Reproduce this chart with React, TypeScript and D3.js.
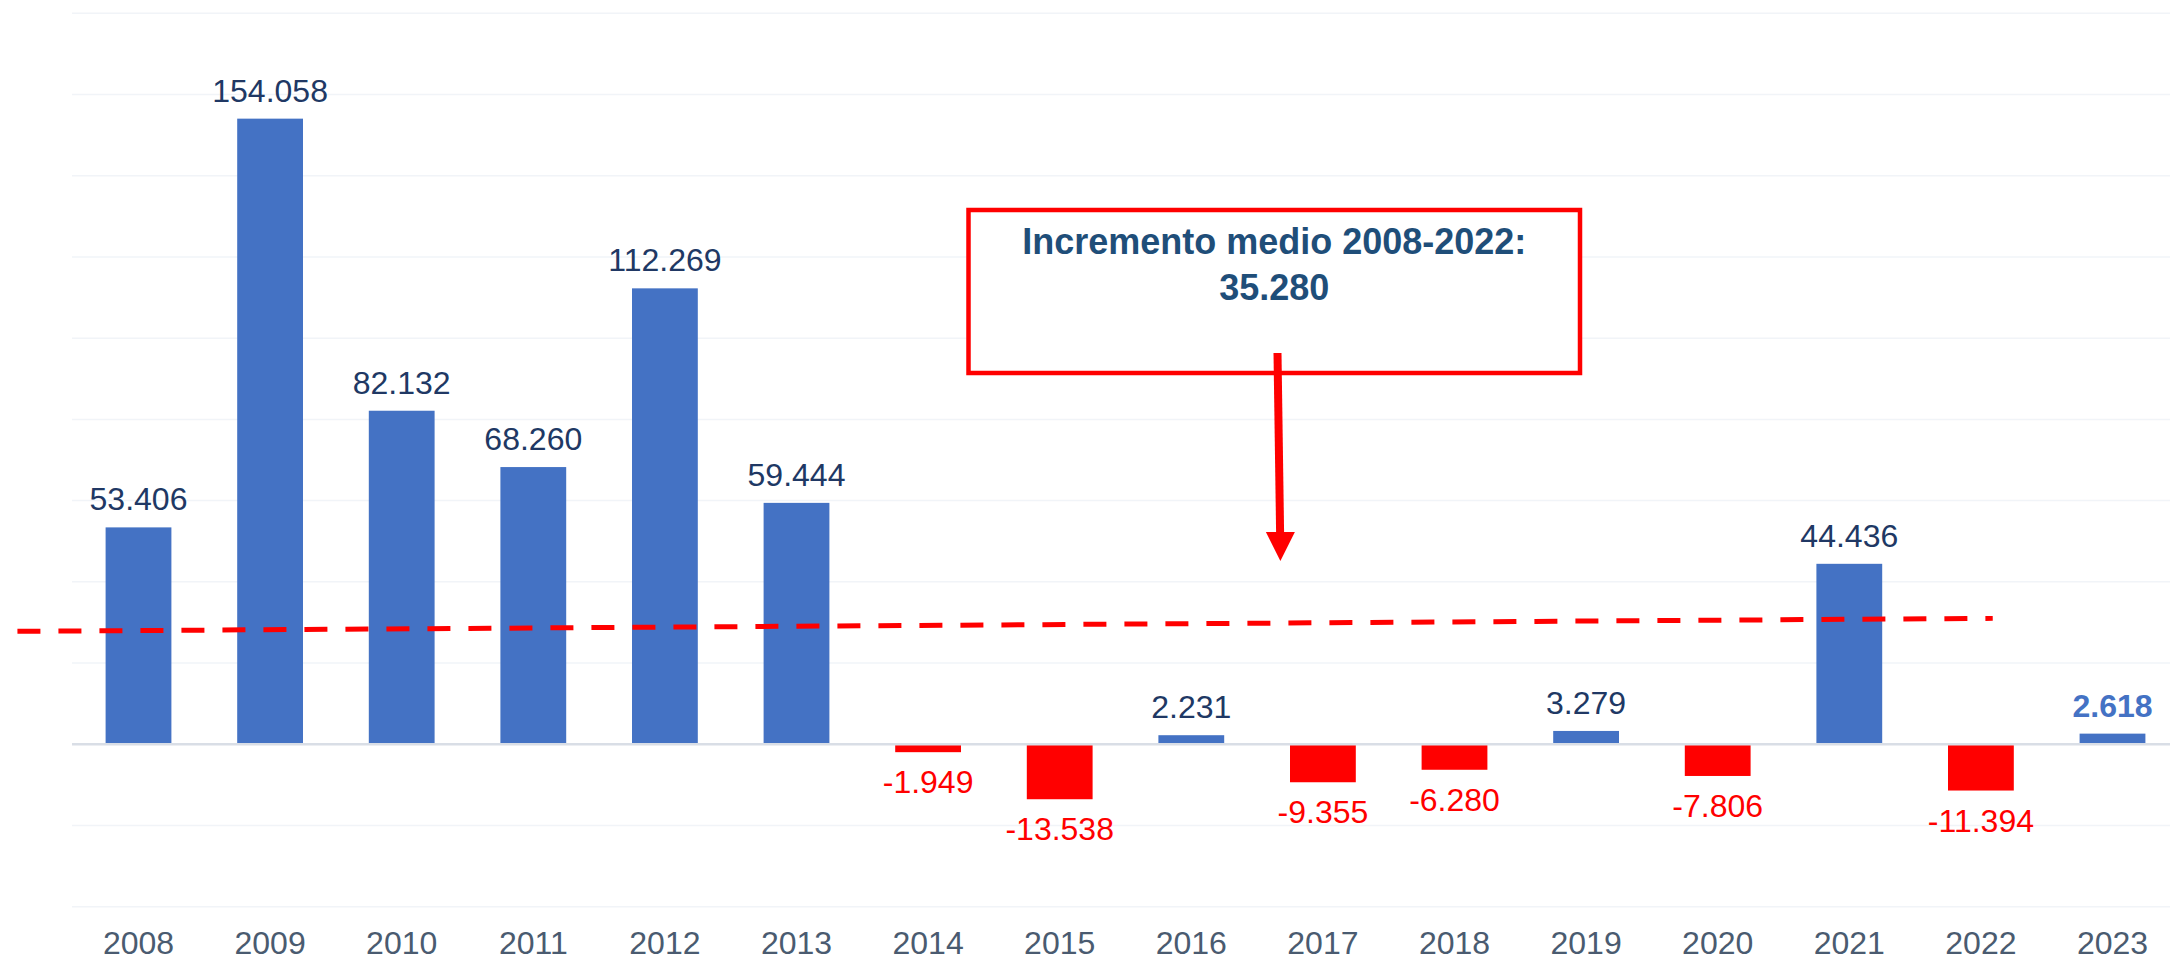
import React from 'react';
import * as d3 from 'd3';

const years = ['2008', '2009', '2010', '2011', '2012', '2013', '2014', '2015', '2016', '2017', '2018', '2019', '2020', '2021', '2022', '2023'];
const increments = [53406, 154058, 82132, 68260, 112269, 59444, -1949, -13538, 2231, -9355, -6280, 3279, -7806, 44436, -11394, 2618];
const yTicks = [-40000, -20000, 0, 20000, 40000, 60000, 80000, 100000, 120000, 140000, 160000, 180000];
// trend line drawn in the original: [category index, value]
const trendStart = [-0.92, 27800];
const trendEnd = [14.09, 31000];
const noteLines = ['Incremento medio 2008-2022:', '35.280'];

const W = 2170;
const H = 960;

const esLocale = d3.formatLocale({ decimal: ',', thousands: '.', grouping: [3], currency: ['', ' €'], minus: '-' });
const fmt = esLocale.format(',d');

const App = () => {
  const x = d3.scaleBand().domain(years).range([72.7, 2178.3]).paddingInner(0.5).paddingOuter(0.25);
  const y = d3.scaleLinear().domain([-40000, 180000]).range([906.7, 13.3]);
  const bw = x.bandwidth();
  const step = x.step();
  const cx = (i) => (x(years[0]) ?? 0) + bw / 2 + i * step;

  const trendLine = d3.line()
    .x((d) => cx(d[0]))
    .y((d) => y(d[1]))([trendStart, trendEnd]);

  const last = years.length - 1;

  // annotation box + arrow
  const box = { x: 968.5, y: 210, w: 611.5, h: 163 };
  const arrowTop = [1277.5, 353];
  const arrowTip = [1280.4, 561];
  const headH = 29;
  const headW = 29;

  return (
    <div style={{ position: 'absolute', left: 0, top: 0 }}>
      <svg width={W} height={H} style={{ display: 'block', background: '#fff' }} fontFamily="'Liberation Sans', Arial, sans-serif">
        {/* gridlines */}
        {yTicks.filter((t) => t !== 0).map((t) => (
          <line key={t} x1={72} x2={W} y1={y(t)} y2={y(t)} stroke="#f1f4f8" strokeWidth={1.5} />
        ))}

        {/* bars */}
        {increments.map((v, i) => (
          <rect
            key={years[i]}
            x={x(years[i])}
            width={bw}
            y={v >= 0 ? y(v) : y(0)}
            height={Math.abs(y(v) - y(0))}
            fill={v >= 0 ? '#4472c4' : '#ff0000'}
          />
        ))}

        {/* zero line */}
        <line x1={72} x2={W} y1={y(0)} y2={y(0)} stroke="#d9dee6" strokeWidth={2.5} />

        {/* value labels */}
        {increments.map((v, i) => {
          const c = (x(years[i]) ?? 0) + bw / 2;
          const isLast = i === last;
          return (
            <text
              key={'l' + years[i]}
              x={c}
              y={v >= 0 ? y(v) - 17 : y(v) + 41}
              textAnchor="middle"
              fontSize={32}
              fontWeight={isLast ? 'bold' : 'normal'}
              fill={v < 0 ? '#ff0000' : isLast ? '#4472c4' : '#203864'}
            >
              {fmt(v)}
            </text>
          );
        })}

        {/* x axis labels */}
        {years.map((yr) => (
          <text key={'x' + yr} x={(x(yr) ?? 0) + bw / 2} y={954} textAnchor="middle" fontSize={32} fill="#4a5b70">
            {yr}
          </text>
        ))}

        {/* trend line */}
        <path d={trendLine ?? ''} fill="none" stroke="#ff0000" strokeWidth={5} strokeDasharray="23 18" />

        {/* annotation */}
        <rect x={box.x} y={box.y} width={box.w} height={box.h} fill="#fff" stroke="#ff0000" strokeWidth={4.5} />
        {noteLines.map((t, i) => (
          <text
            key={t}
            x={box.x + box.w / 2}
            y={254 + i * 45.5}
            textAnchor="middle"
            fontSize={36}
            fontWeight="bold"
            fill="#1f4e79"
          >
            {t}
          </text>
        ))}
        <line x1={arrowTop[0]} y1={arrowTop[1]} x2={arrowTip[0] - 0.3} y2={arrowTip[1] - headH + 1} stroke="#ff0000" strokeWidth={8} />
        <path
          d={`M${arrowTip[0] - headW / 2},${arrowTip[1] - headH} L${arrowTip[0] + headW / 2},${arrowTip[1] - headH} L${arrowTip[0]},${arrowTip[1]} Z`}
          fill="#ff0000"
        />
      </svg>
    </div>
  );
};

export default App;
